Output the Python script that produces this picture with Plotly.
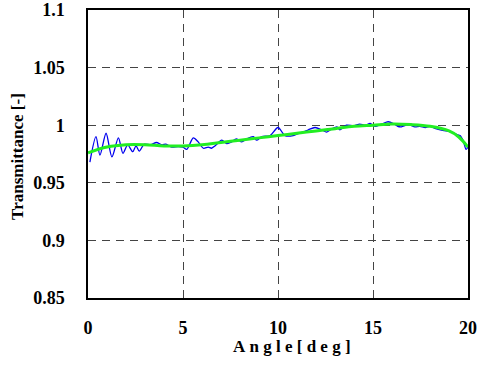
import plotly.graph_objects as go

# Measured transmittance (blue)
meas_x = [0.1, 0.42, 0.63, 0.95, 1.26, 1.6, 1.84, 2.09, 2.35, 2.53, 2.7, 2.96, 3.3, 3.6, 3.9,
          4.1, 4.4, 4.75, 5.0, 5.2, 5.54, 5.8, 6.07, 6.33, 6.5, 6.68, 7.04, 7.3, 7.5, 7.82,
          8.09, 8.35, 8.7, 8.88, 9.14, 9.58, 10.0, 10.37, 10.8, 11.1, 11.33, 11.6, 11.95, 12.3,
          12.56, 12.85, 13.1, 13.26, 13.6, 14.0, 14.3, 14.6, 14.85, 15.1, 15.45, 15.8, 16.07,
          16.3, 16.5, 16.75, 16.95, 17.2, 17.47, 17.75, 18.0, 18.3, 18.6, 18.85, 19.14, 19.4,
          19.58, 19.75, 19.9, 20.0]
meas_y = [0.968, 0.990, 0.974, 0.993, 0.9725, 0.989, 0.9755, 0.983, 0.977, 0.982, 0.9775, 0.9835,
          0.983, 0.985, 0.983, 0.9835, 0.981, 0.9815, 0.981, 0.979, 0.989, 0.9855, 0.980, 0.981,
          0.980, 0.982, 0.987, 0.984, 0.985, 0.988, 0.9855, 0.988, 0.990, 0.987, 0.990, 0.991,
          0.998, 0.991, 0.991, 0.993, 0.994, 0.996, 0.998, 0.996, 0.994, 0.997, 0.9986, 0.996,
          1.000, 0.9995, 1.001, 1.000, 1.0015, 0.999, 1.001, 1.003, 1.0015, 0.999, 0.9986, 1.000,
          1.000, 0.9985, 0.999, 0.998, 0.999, 0.997, 0.9957, 0.995, 0.994, 0.992, 0.991, 0.9864,
          0.979, 0.981]

# Fitted curve (green)
fit_x = [0, 1, 2, 3, 4, 5, 6, 7, 8, 9, 10, 11, 12, 13, 14, 15, 16, 17, 18, 19, 19.5, 20]
fit_y = [0.976, 0.981, 0.983, 0.983, 0.982, 0.982, 0.983, 0.985, 0.987, 0.989, 0.991, 0.993,
         0.995, 0.997, 0.999, 1.000, 1.001, 1.0005, 0.999, 0.995, 0.990, 0.981]

x_ticks = [0, 5, 10, 15, 20]
x_tick_text = ["0", "5", "10", "15", "20"]
y_ticks = [0.85, 0.9, 0.95, 1.0, 1.05, 1.1]
y_tick_text = ["0.85", "0.9", "0.95", "1", "1.05", "1.1"]

font_family = "Liberation Serif, serif"
sp = "\u2005"
x_title = sp.join("Angle") + " " + sp.join("[deg]")

fig = go.Figure()
fig.add_trace(go.Scatter(x=meas_x, y=meas_y, mode="lines",
                         line=dict(color="#0000ee", width=1.3, shape="spline", smoothing=0.8),
                         showlegend=False))
fig.add_trace(go.Scatter(x=fit_x, y=fit_y, mode="lines",
                         line=dict(color="#22ee22", width=3, shape="spline"),
                         showlegend=False))

axis_common = dict(
    showline=True, linecolor="black", linewidth=1.5, mirror=True,
    showgrid=True, gridcolor="#444444", griddash="8px,6px", gridwidth=1,
    zeroline=False, ticks="", automargin=False,
    tickfont=dict(family=font_family, size=18, color="black", weight=700),
)

fig.update_xaxes(range=[0, 20], tickvals=x_ticks, ticktext=x_tick_text, ticklabelstandoff=13,
                 **axis_common)
fig.update_yaxes(range=[0.85, 1.1], tickvals=y_ticks, ticktext=y_tick_text, ticklabelstandoff=18,
                 **axis_common)

fig.add_annotation(text=x_title, xref="paper", yref="paper",
                   x=(292 - 88) / 380, y=-48 / 288, xanchor="center", yanchor="middle",
                   showarrow=False,
                   font=dict(family=font_family, size=17, color="black", weight=700))
fig.add_annotation(text="Transmittance [-]", xref="paper", yref="paper",
                   x=-70 / 380, y=0.49, xanchor="center", yanchor="middle", textangle=-90,
                   showarrow=False,
                   font=dict(family=font_family, size=17, color="black", weight=700))

fig.update_layout(
    width=481, height=367,
    margin=dict(l=88, r=13, t=10, b=69),
    paper_bgcolor="white", plot_bgcolor="white",
)

fig.write_html("out.html")
